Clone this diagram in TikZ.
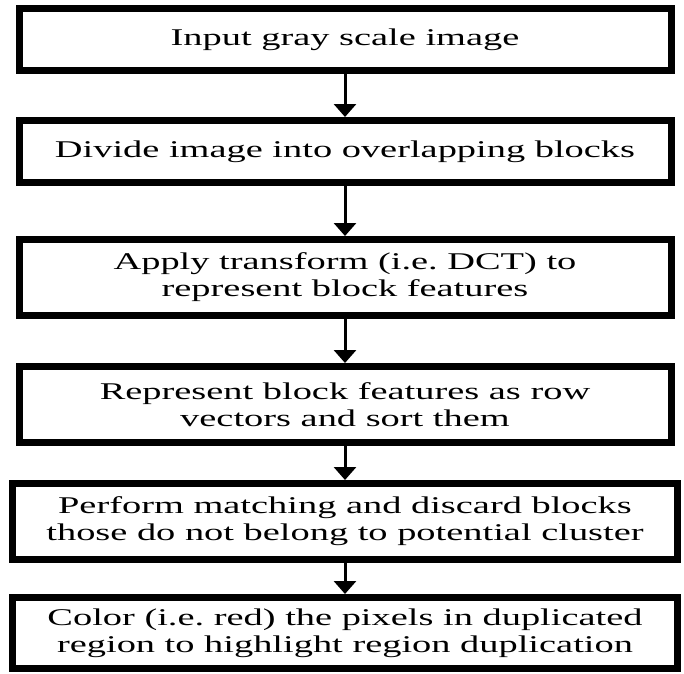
\documentclass[tikz,border=0pt]{standalone}
\usepackage{fontspec}
\setmainfont{Liberation Serif}[FakeStretch=1.6]
\usepackage{tikz}
\usetikzlibrary{positioning,arrows.meta}

\begin{document}
\begin{tikzpicture}[->,>={Triangle[width=22pt,length=13pt]},line width=3pt,x=1pt,y=1pt]
\tikzstyle{stepbox}=[draw=black,line width=7pt,fill=white,minimum width=652pt,minimum height=76pt,inner sep=2pt,align=center,font=\fontsize{24}{27}\selectfont]
\useasboundingbox (0,0) rectangle (684,-673);
\node[stepbox,minimum height=62pt] (IN) at (345,-39.5) {Input gray scale image};
\node[stepbox,minimum height=62pt,below=43pt of IN] (DIV) {Divide image into overlapping blocks};
\node[stepbox,below=50pt of DIV] (DCT) {Apply transform (i.e.\ DCT) to\\represent block features};
\node[stepbox,below=44pt of DCT] (SORT) {Represent block features as row\\vectors and sort them};
\node[stepbox,minimum width=665pt,below=34pt of SORT] (MATCH) {Perform matching and discard blocks\\those do not belong to potential cluster};
\node[stepbox,minimum width=665pt,minimum height=71pt,below=31pt of MATCH] (COLOR) {Color (i.e.\ red) the pixels in duplicated\\region to highlight region duplication};
\path (IN)edge(DIV)
      (DIV)edge(DCT)
      (DCT)edge(SORT)
      (SORT)edge(MATCH)
      (MATCH)edge(COLOR);
\end{tikzpicture}
\end{document}
